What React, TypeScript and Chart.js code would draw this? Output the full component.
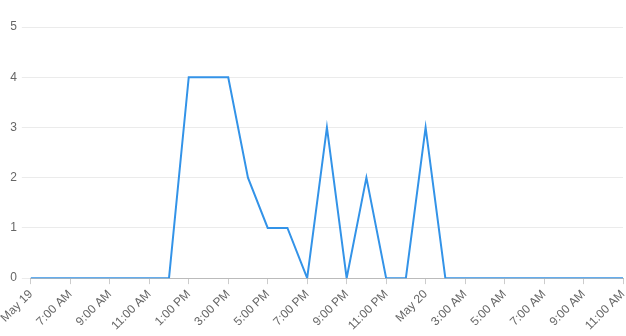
import React, { useEffect, useRef } from "react";
import { Chart, registerables } from "chart.js";

Chart.register(...registerables);

const timeLabels: string[] = [
  "May 19", "6:00 AM", "7:00 AM", "8:00 AM", "9:00 AM", "10:00 AM", "11:00 AM", "12:00 PM",
  "1:00 PM", "2:00 PM", "3:00 PM", "4:00 PM", "5:00 PM", "6:00 PM", "7:00 PM", "8:00 PM",
  "9:00 PM", "10:00 PM", "11:00 PM", "12:00 AM", "May 20", "2:00 AM", "3:00 AM", "4:00 AM",
  "5:00 AM", "6:00 AM", "7:00 AM", "8:00 AM", "9:00 AM", "10:00 AM", "11:00 AM",
];

const counts: number[] = [
  0, 0, 0, 0, 0, 0, 0, 0,
  4, 4, 4, 2, 1, 1, 0, 3,
  0, 2, 0, 0, 3, 0, 0, 0,
  0, 0, 0, 0, 0, 0, 0,
];

const yTicks: number[] = [0, 1, 2, 3, 4, 5];

export default function App() {
  const ref = useRef<HTMLCanvasElement | null>(null);

  useEffect(() => {
    document.body.style.margin = "0";
    const canvas = ref.current;
    if (!canvas) return;
    const chart = new Chart(canvas, {
      type: "line",
      data: {
        labels: timeLabels,
        datasets: [
          {
            data: counts,
            borderColor: "#3393e8",
            backgroundColor: "#3393e8",
            borderWidth: 2,
            pointRadius: 0,
            tension: 0,
            fill: false,
          },
        ],
      },
      options: {
        animation: false,
        responsive: false,
        maintainAspectRatio: false,
        layout: { padding: { top: 27, right: 3, left: 0, bottom: 0 } },
        plugins: { legend: { display: false }, tooltip: { enabled: false } },
        scales: {
          x: {
            afterFit: (scale: any) => {
              scale.paddingRight = 0;
            },
            grid: { drawOnChartArea: false, color: "#cccccc", tickLength: 6 },
            border: { color: "#bbbbbb" },
            ticks: {
              autoSkip: false,
              minRotation: 45,
              maxRotation: 45,
              color: "#666",
              font: { family: "Liberation Sans, Arial, sans-serif", size: 12 },
              callback: (_v: any, i: number) => (i % 2 === 0 ? timeLabels[i] : null),
            },
          },
          y: {
            min: yTicks[0],
            max: yTicks[yTicks.length - 1],
            border: { display: false },
            grid: { color: "#ebebeb", tickLength: 9 },
            ticks: {
              stepSize: 1,
              color: "#666",
              padding: 5,
              font: { family: "Liberation Sans, Arial, sans-serif", size: 12 },
            },
          },
        },
      },
    });
    return () => chart.destroy();
  }, []);

  return (
    <div style={{ width: 626, height: 336 }}>
      <canvas ref={ref} width={626} height={336} style={{ display: "block" }} />
    </div>
  );
}
